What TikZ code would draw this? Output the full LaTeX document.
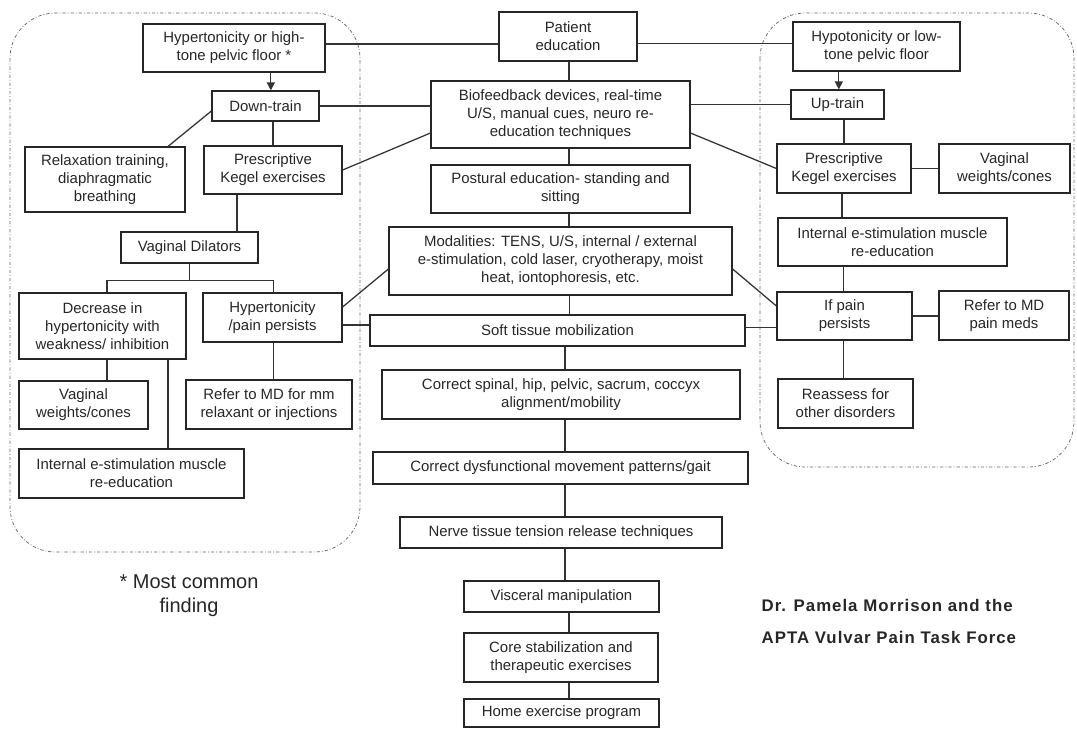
\documentclass[tikz,border=0pt]{standalone}
\usepackage{fontspec}
\setmainfont{Liberation Sans}
\newfontfamily\creditfont[LetterSpace=6]{Liberation Sans}
\usetikzlibrary{arrows.meta}

% vertical connector from the bottom of #1 to the top of #2, shifted by #3
\newcommand\vlink[3]{\draw[link] ([xshift=#3]#1.south) -- ([xshift=#3]#1.south |- #2.north);}

\begin{document}
\begin{tikzpicture}[x=0.75pt,y=-0.75pt,
  box/.style={draw=black!85, line width=0.9pt, inner sep=1pt, align=center,
    font=\fontsize{11.2}{13.5}\selectfont, text=black!85},
  wh/.style 2 args={minimum width=#1*0.75pt, minimum height=#2*0.75pt},
  link/.style={draw=black!80, line width=0.95pt},
  arr/.style={link, -{Triangle[length=6pt,width=6pt]}},
  zone/.style={draw=black!60, line width=0.55pt,
    dash pattern=on 2.5pt off 1.5pt on 0.6pt off 1.5pt, rounded corners=34pt}]

\useasboundingbox (0,0) rectangle (1077,728);

% dashed groupings
\draw[zone] (10,13) rectangle (360,552);
\draw[zone] (760,13) rectangle (1074,467);

% central column
\node[box, wh={138}{49}]  (pat)   at (568,36.5)   {Patient\\education};
\node[box, wh={259}{67}]  (bio)   at (560.5,114.5) {Biofeedback devices, real-time\\U/S, manual cues, neuro re-\\education techniques};
\node[box, wh={259}{48}]  (post)  at (560.5,189)  {Postural education- standing and\\sitting};
\node[box, wh={343}{68}]  (mod)   at (560.5,261)  {Modalities: TENS, U/S, internal / external\\e-stimulation, cold laser, cryotherapy, moist\\heat, iontophoresis, etc.};
\node[box, wh={375}{31}]  (soft)  at (557.5,330.5) {Soft tissue mobilization};
\node[box, wh={358}{49}]  (spine) at (561,394.5)  {Correct spinal, hip, pelvic, sacrum, coccyx\\alignment/mobility};
\node[box, wh={375}{32}]  (dys)   at (560.5,468)  {Correct dysfunctional movement patterns/gait};
\node[box, wh={322}{31}]  (nerve) at (561,532.5)  {Nerve tissue tension release techniques};
\node[box, wh={195}{31}]  (visc)  at (561.5,596.5) {Visceral manipulation};
\node[box, wh={194}{49}]  (core)  at (561,657.5)  {Core stabilization and\\therapeutic exercises};
\node[box, wh={195}{28}]  (home)  at (561.5,713)  {Home exercise program};

% left branch
\node[box, wh={182}{48}]  (hyper) at (234,48)     {Hypertonicity or high-\\tone pelvic floor *};
\node[box, wh={107}{30}]  (down)  at (265.5,106)  {Down-train};
\node[box, wh={160}{65}]  (relax) at (105,179.5)  {Relaxation training,\\diaphragmatic\\breathing};
\node[box, wh={138}{48}]  (kegL)  at (273,170)    {Prescriptive\\Kegel exercises};
\node[box, wh={137}{31}]  (dil)   at (189.5,247.5) {Vaginal Dilators};
\node[box, wh={167}{66}]  (dec)   at (102.5,326)  {Decrease in\\hypertonicity with\\weakness/ inhibition};
\node[box, wh={139}{49}]  (hpain) at (272.5,317.5) {Hypertonicity\\/pain persists};
\node[box, wh={129}{48}]  (vwL)   at (83.5,405)   {Vaginal\\weights/cones};
\node[box, wh={166}{49}]  (refL)  at (269,404.5)  {Refer to MD for mm\\relaxant or injections};
\node[box, wh={225}{49}]  (estL)  at (131.5,473.5) {Internal e-stimulation muscle\\re-education};

% right branch
\node[box, wh={167}{49}]  (hypo)  at (876.5,46.5) {Hypotonicity or low-\\tone pelvic floor};
\node[box, wh={93}{29}]   (up)    at (837.5,104.5) {Up-train};
\node[box, wh={134}{49}]  (kegR)  at (844,168.5)  {Prescriptive\\Kegel exercises};
\node[box, wh={131}{49}]  (vwR)   at (1004.5,168.5) {Vaginal\\weights/cones};
\node[box, wh={229}{48}]  (estR)  at (892.5,242)  {Internal e-stimulation muscle\\re-education};
\node[box, wh={135}{48}]  (ifpain) at (844.5,316) {If pain\\persists};
\node[box, wh={130}{49}]  (refR)  at (1004,315.5) {Refer to MD\\pain meds};
\node[box, wh={135}{49}]  (reass) at (845.5,403.5) {Reassess for\\other disorders};

% notes
\node[align=center, text=black!85, font=\fontsize{15}{18}\selectfont] (note) at (189,596) {* Most common\\finding};
\node[align=left, anchor=north west, text=black!85,
  font=\creditfont\bfseries\fontsize{12.6}{24}\selectfont] (credit) at (757,595)
  {Dr. Pamela Morrison and the\\APTA Vulvar Pain Task Force};

% central chain
\vlink{pat}{bio}{0.75pt}
\vlink{bio}{post}{6.4pt}
\vlink{post}{mod}{6.4pt}
\vlink{mod}{soft}{7pt}
\vlink{soft}{spine}{5.6pt}
\vlink{spine}{dys}{3pt}
\vlink{dys}{nerve}{3.4pt}
\vlink{nerve}{visc}{3pt}
\vlink{visc}{core}{5.6pt}
\vlink{core}{home}{6pt}

% top row
\draw[link] ([yshift=3pt]hyper.east) -- ([yshift=3pt]hyper.east -| pat.west);
\draw[link] ([yshift=-5pt]pat.east) -- ([yshift=-5pt]pat.east -| hypo.west);

% left branch links
\draw[arr] ([xshift=4pt]down.north |- hyper.south) -- ([xshift=4pt]down.north);
\draw[link] (down.east) -- (down.east -| bio.west);
\draw[link] ([yshift=-3.75pt]down.west) -- ([xshift=47.25pt]relax.north);
\draw[link] (kegL.north |- down.south) -- (kegL.north);
\draw[link] (kegL.east) -- ([yshift=-13.9pt]bio.west);
\draw[link] ([xshift=-27pt]kegL.south) -- ([xshift=-27pt]kegL.south |- dil.north);
\draw[link] (dil.south) -- ++(0,17) coordinate (split);
\draw[link] ([xshift=3.4pt]dec.north) |- (split) -| ([xshift=1pt]hpain.north);
\vlink{dec}{vwL}{3.4pt}
\vlink{dec}{estL}{49.1pt}
\vlink{hpain}{refL}{1pt}
\draw[link] ([yshift=7.9pt]hpain.east) -- ([yshift=-6pt]mod.west);
\draw[link] ([yshift=-5.6pt]hpain.east) -- ([yshift=-5.6pt]hpain.east -| soft.west);

% right branch links
\draw[arr] ([xshift=1pt]up.north |- hypo.south) -- ([xshift=1pt]up.north);
\draw[link] (up.west -| bio.east) -- (up.west);
\draw[link] (kegR.north |- up.south) -- (kegR.north);
\draw[link] ([yshift=-13.9pt]bio.east) -- (kegR.west);
\draw[link] (kegR.east) -- (vwR.west);
\vlink{kegR}{estR}{-1.5pt}
\draw[link] ([xshift=-1pt]ifpain.north |- estR.south) -- ([xshift=-1pt]ifpain.north);
\draw[link] (ifpain.east) -- (ifpain.east -| refR.west);
\vlink{ifpain}{reass}{-1pt}
\draw[link] ([yshift=-6pt]mod.east) -- ([yshift=7.5pt]ifpain.west);
\draw[link] ([yshift=2pt]soft.east) -- ([yshift=2pt]soft.east -| ifpain.west);

\end{tikzpicture}
\end{document}
